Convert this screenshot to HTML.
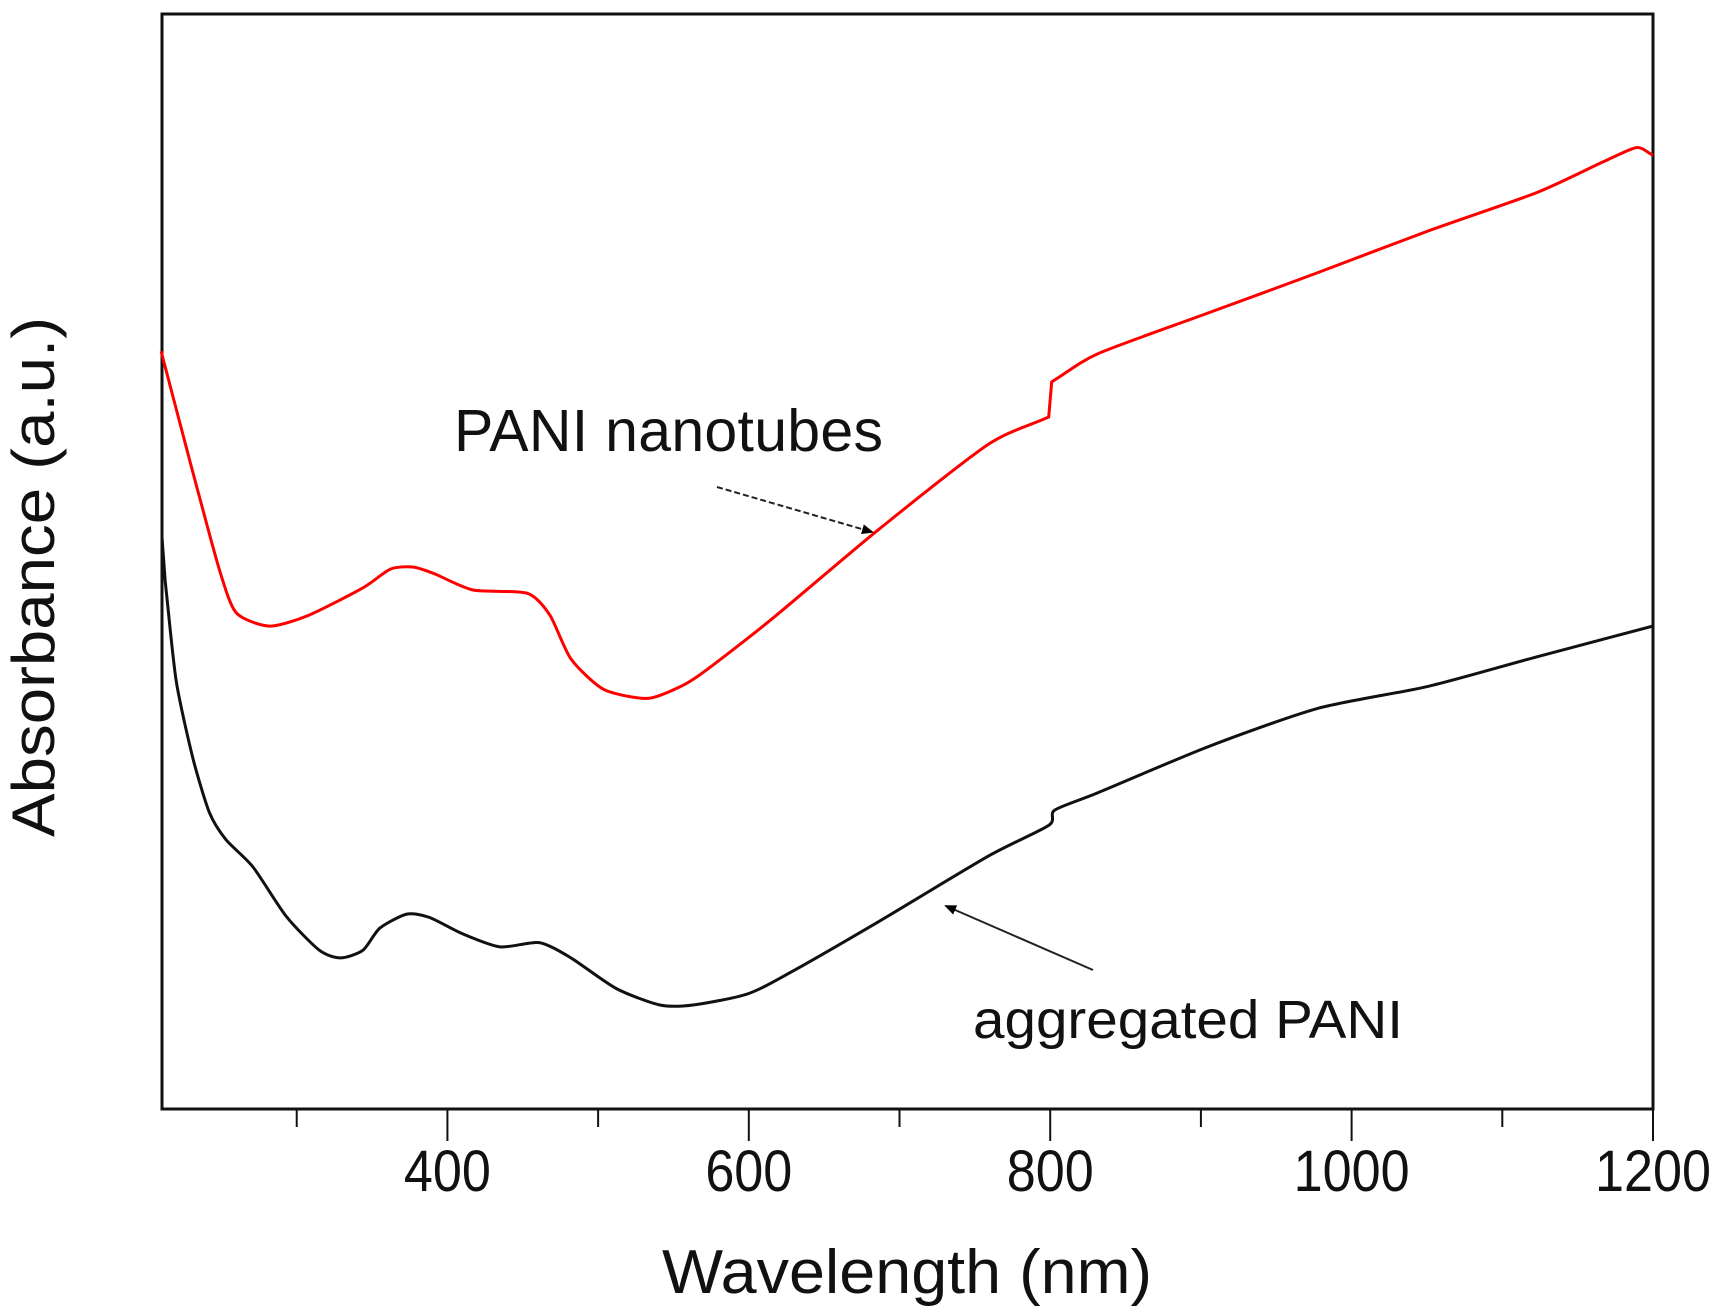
<!DOCTYPE html>
<html><head><meta charset="utf-8"><style>
html,body{margin:0;padding:0;background:#fff;}
svg{display:block;font-family:"Liberation Sans",sans-serif;}
</style></head><body>
<svg id="chart" width="1721" height="1314" viewBox="0 0 1721 1314" xmlns="http://www.w3.org/2000/svg">
<defs>
<marker id="ah" markerWidth="12" markerHeight="10" refX="10" refY="5" orient="auto" markerUnits="userSpaceOnUse"><path d="M0,0 L12,5 L0,10 Z" fill="#000"/></marker>
</defs>
<g id="plot"></g>
<text x="454" y="451" font-size="59" fill="#111" textLength="429">PANI nanotubes</text>
<text x="973" y="1038" font-size="54" fill="#111" textLength="430" lengthAdjust="spacingAndGlyphs">aggregated PANI</text>
<line x1="717" y1="487" x2="872" y2="532" stroke="#222" stroke-width="2" stroke-dasharray="6,3" marker-end="url(#ah)"/>
<line x1="1093" y1="970" x2="946" y2="906" stroke="#222" stroke-width="2" marker-end="url(#ah)"/>
<text x="907" y="1293" font-size="62" text-anchor="middle" fill="#111" textLength="490" lengthAdjust="spacingAndGlyphs">Wavelength (nm)</text>
<text transform="translate(54,577) rotate(-90)" font-size="60" text-anchor="middle" fill="#111" textLength="520" lengthAdjust="spacingAndGlyphs">Absorbance (a.u.)</text>
</svg>
<script>
const redWl=[210,231,249,260,282,308,344,362,377,391,417,453,468,482,504,533,555,570,614,686,759,799,801,832,905,978,1051,1123,1167,1189,1200];
const redAbs=[0.692,0.582,0.491,0.453,0.441,0.451,0.476,0.493,0.495,0.489,0.474,0.471,0.451,0.411,0.383,0.375,0.386,0.399,0.446,0.529,0.607,0.632,0.664,0.690,0.727,0.764,0.802,0.837,0.865,0.878,0.871];
const blackWl=[210.6,212.8,220,231,242,253,271,293,315,329,344,355,373,388,410,435,461,482,512,541,563,599,628,686,759,799,803,832,905,978,1051,1123,1200];
const blackAbs=[0.522,0.481,0.391,0.321,0.271,0.246,0.221,0.176,0.145,0.138,0.145,0.165,0.178,0.175,0.160,0.148,0.152,0.138,0.110,0.095,0.095,0.105,0.125,0.171,0.231,0.259,0.273,0.289,0.331,0.366,0.386,0.413,0.441];
const majorTicks=[400,600,800,1000,1200];
const minorTicks=[300,500,700,900,1100];
const xMin=210.6,xMax=1200;
const L=162,R=1653,T=14,B=1109;
const NS="http://www.w3.org/2000/svg";
const g=document.getElementById('plot');
function xs(v){return L+(v-xMin)/(xMax-xMin)*(R-L);}
function ys(v){return B-v*(B-T);}
function mk(tag,attrs){const e=document.createElementNS(NS,tag);for(const k in attrs)e.setAttribute(k,attrs[k]);g.appendChild(e);return e;}
function pathFor(wl,ab){
  const p=wl.map((w,i)=>[xs(w),ys(ab[i])]);
  let d="M"+p[0][0].toFixed(1)+","+p[0][1].toFixed(1);
  for(let i=0;i<p.length-1;i++){
    const p0=p[Math.max(0,i-1)],p1=p[i],p2=p[i+1],p3=p[Math.min(p.length-1,i+2)];
    const dx=p2[0]-p1[0];
    if(dx<6){d+=" L"+p2[0].toFixed(1)+","+p2[1].toFixed(1);continue;}
    const t=0.12;
    const c1=[p1[0]+(p2[0]-p0[0])*t,p1[1]+(p2[1]-p0[1])*t];
    const c2=[p2[0]-(p3[0]-p1[0])*t,p2[1]-(p3[1]-p1[1])*t];
    if(p0[0]>p1[0]-6){c1[0]=p1[0]+dx/3;c1[1]=p1[1]+(p2[1]-p1[1])/3;}
    if(p3[0]<p2[0]+6){c2[0]=p2[0]-dx/3;c2[1]=p2[1]-(p2[1]-p1[1])/3;}
    d+=" C"+c1[0].toFixed(1)+","+c1[1].toFixed(1)+" "+c2[0].toFixed(1)+","+c2[1].toFixed(1)+" "+p2[0].toFixed(1)+","+p2[1].toFixed(1);
  }
  return d;
}
const frame=mk('rect',{x:L,y:T,width:R-L,height:B-T,fill:'none',stroke:'#111','stroke-width':3});


const red=mk('path',{d:pathFor(redWl,redAbs),fill:'none',stroke:'#ff0000','stroke-width':3});


const blk=mk('path',{d:pathFor(blackWl,blackAbs),fill:'none',stroke:'#111','stroke-width':3});


majorTicks.forEach(v=>{
  const t=mk('line',{x1:xs(v),x2:xs(v),y1:B,y2:B+32,stroke:'#111','stroke-width':2});
  
  
  const lb=mk('text',{x:xs(v),y:B+82,'font-size':58,'text-anchor':'middle',fill:'#111',textLength:String(v).length*29,lengthAdjust:'spacingAndGlyphs'});
  lb.textContent=v;
  
  
});
minorTicks.forEach(v=>{
  const t=mk('line',{x1:xs(v),x2:xs(v),y1:B,y2:B+18,stroke:'#111','stroke-width':2});
  
  
});
</script>
</body></html>
